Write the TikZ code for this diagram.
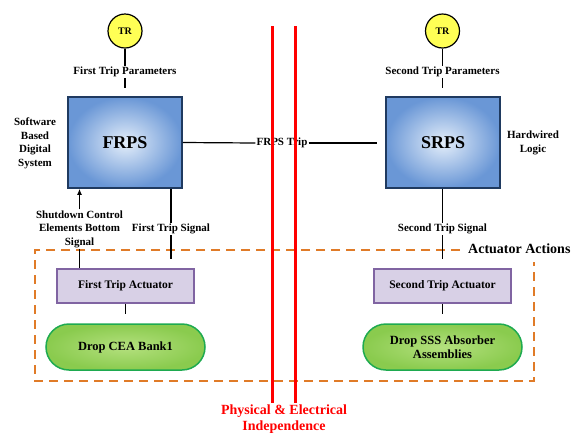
\documentclass[tikz,border=0pt]{standalone}
\usepackage{fontspec}
\setmainfont{Liberation Serif}
\usetikzlibrary{arrows.meta}
\definecolor{rpsout}{HTML}{6A97D6}
\definecolor{rpsin}{HTML}{E4EEFA}
\definecolor{rpsline}{HTML}{1F3A60}
\definecolor{actfill}{HTML}{D8D0E6}
\definecolor{actline}{HTML}{8064A2}
\definecolor{grnout}{HTML}{8ACB4E}
\definecolor{grnin}{HTML}{B4E07E}
\definecolor{grnline}{HTML}{1EAA50}
\definecolor{orangedash}{HTML}{E07B28}
\definecolor{truered}{HTML}{FF0000}
\definecolor{tryellow}{HTML}{FFFF55}
\tikzset{
  conn/.style={draw=black, line width=1.2pt},
  arr/.style={conn, -{Latex[length=6pt,width=5pt]}},
  lbl/.style={font=\fontsize{11}{13.5}\selectfont\bfseries, align=center, inner sep=1pt},
  trnode/.style={circle, draw=black, line width=1.2pt, fill=tryellow, minimum size=34pt, inner sep=0pt, font=\fontsize{10}{12}\selectfont\bfseries},
  rpsbox/.style={rectangle, draw=rpsline, line width=1.5pt, inner color=rpsin, outer color=rpsout, minimum width=114pt, minimum height=91pt, font=\fontsize{18}{20}\selectfont\bfseries},
  actbox/.style={rectangle, draw=actline, line width=1.5pt, fill=actfill, minimum width=137pt, minimum height=34pt, font=\fontsize{11.5}{13}\selectfont\bfseries},
  dropbox/.style={rectangle, rounded corners=23pt, draw=grnline, line width=1.5pt, inner color=grnin, outer color=grnout, minimum width=159pt, minimum height=46pt, align=center, font=\fontsize{12.5}{14}\selectfont\bfseries},
  redline/.style={draw=truered, line width=2.6pt},
  dashbox/.style={draw=orangedash, line width=1.5pt, dash pattern=on 9pt off 6pt}
}
\begin{document}
\begin{tikzpicture}[x=1pt,y=-1pt]
\useasboundingbox (0,0) rectangle (572,432);

% Upper left: FRPS
\node[trnode] (tr1) at (125,31) {TR};
\node[lbl] (ftp) at (125,72) {First Trip Parameters};
\coordinate (ftpend) at (125,88);
\node[rpsbox] (frps) at (125,142.5) {FRPS};
\draw[conn] (tr1) -- (ftp);
\draw[conn] (ftp) -- (ftpend);
\node[lbl] (sbds) at (35,143.5) {Software\\Based\\Digital\\System};

% Upper right: SRPS
\node[trnode] (tr2) at (442.5,31) {TR};
\node[lbl] (stp) at (442.5,72) {Second Trip Parameters};
\coordinate (stpend) at (442.5,88);
\node[rpsbox] (srps) at (443,142.5) {SRPS};
\draw[conn] (tr2) -- (stp);
\draw[conn] (stp) -- (stpend);
\node[lbl] (hwl) at (533,143) {Hardwired\\Logic};

% FRPS Trip
\node[lbl] (frpstrip) at (282,143) {FRPS Trip};
\coordinate (tripend) at (377,143);
\draw[conn] (frps.east) -- (frpstrip.west);
\draw[conn] (frpstrip.east) -- (tripend);

% Actuator actions dashed box
\draw[dashbox] (460,250) -- (35,250) -- (35,381) -- (534,381) -- (534,262);
\node[anchor=west, inner sep=0pt, font=\fontsize{14}{16}\selectfont\bfseries] (aa) at (468,248.5) {Actuator Actions};

% Left chain
\node[lbl] (sd) at (79.5,229) {Shutdown Control\\Elements Bottom\\Signal};
\node[lbl] (fts) at (171,229) {First Trip Signal};
\node[actbox] (fta) at (125.5,286) {First Trip Actuator};
\node[dropbox] (cea) at (125.5,347) {Drop CEA Bank1};
\coordinate (ftsend) at (171,259);
\coordinate (ftaend) at (125.5,314);
\draw[arr] (sd.north) -- (sd.north |- frps.south);
\draw[conn] (sd.south) -- (sd.south |- fta.north);
\draw[conn] (frps.south -| fts) -- (fts.north);
\draw[conn] (fts.south) -- (ftsend);
\draw[conn] (fta.south) -- (ftaend);

% Right chain
\node[lbl] (sts) at (442.5,229) {Second Trip Signal};
\node[actbox] (sta) at (442.5,286) {Second Trip Actuator};
\node[dropbox] (sss) at (442.5,347) {Drop SSS Absorber\\Assemblies};
\coordinate (stsend) at (442.5,259);
\coordinate (staend) at (442.5,314);
\draw[conn] (srps.south -| sts) -- (sts.north);
\draw[conn] (sts.south) -- (stsend);
\draw[conn] (sta.south) -- (staend);

% Physical & Electrical Independence
\coordinate (r1t) at (272.5,26);
\coordinate (r1b) at (272.5,403);
\coordinate (r2t) at (295.5,26);
\coordinate (r2b) at (295.5,403);
\draw[redline] (r1t) -- (r1b);
\draw[redline] (r2t) -- (r2b);
\node[text=truered, align=center, inner sep=0pt, font=\fontsize{14}{16}\selectfont\bfseries] (pei) at (284,419) {Physical \& Electrical\\Independence};
\end{tikzpicture}
\end{document}
